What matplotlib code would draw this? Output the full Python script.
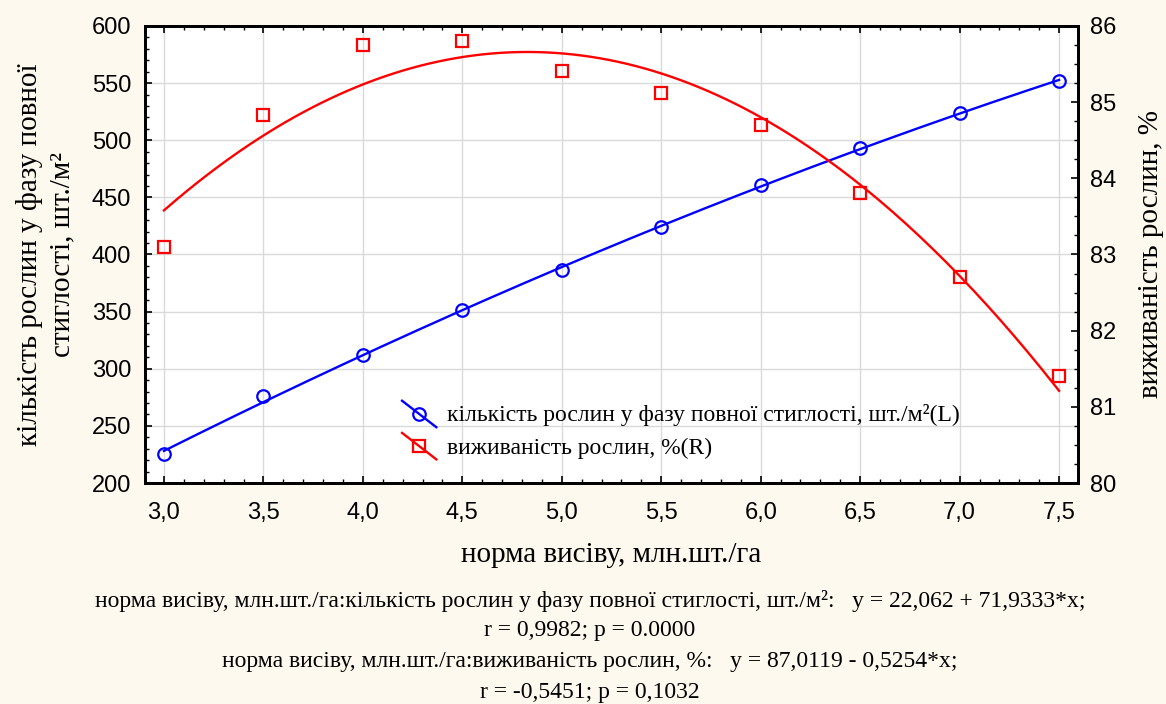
import numpy as np
import matplotlib
matplotlib.use("Agg")
import matplotlib.pyplot as plt
from matplotlib.lines import Line2D
from matplotlib.legend_handler import HandlerLine2D
from matplotlib.ticker import MultipleLocator, FuncFormatter

# seeding rate, mln/ha
seed_rate = [3.0, 3.5, 4.0, 4.5, 5.0, 5.5, 6.0, 6.5, 7.0, 7.5]
# plants at full ripeness, pcs/m2 (left axis)
plants = [225, 276, 312, 351, 386, 424, 461, 493, 524, 552]
# plant survival, % (right axis)
survival = [83.10, 84.83, 85.75, 85.80, 85.41, 85.12, 84.70, 83.81, 82.71, 81.40]

label_plants = "кількість рослин у фазу повної стиглості, шт./м²(L)"
label_surv = "виживаність рослин, %(R)"
xlabel = "норма висіву, млн.шт./га"
ylabel_left = "кількість рослин у фазу повної\nстиглості, шт./м²"
ylabel_right = "виживаність рослин, %"
footer = [
    "норма висіву, млн.шт./га:кількість рослин у фазу повної стиглості, шт./м²:   y = 22,062 + 71,9333*x;",
    "r = 0,9982; p = 0.0000",
    "норма висіву, млн.шт./га:виживаність рослин, %:   y = 87,0119 - 0,5254*x;",
    "r = -0,5451; p = 0,1032",
]

BG = "#fef9ee"
SANS = "Liberation Sans"
SERIF = "Liberation Serif"


class DiagonalHandler(HandlerLine2D):
    # Statistica-style legend key: slanted line with the marker in the middle
    def create_artists(self, legend, orig_handle, xdescent, ydescent,
                       width, height, fontsize, trans):
        x0, x1 = -xdescent, -xdescent + width
        y0, y1 = -ydescent + height * 1.25, -ydescent - height * 0.35
        col = orig_handle.get_color()
        ln = Line2D([x0, x1], [y0, y1], color=col, lw=orig_handle.get_linewidth())
        mk = Line2D([(x0 + x1) / 2], [(y0 + y1) / 2], ls="none",
                    marker=orig_handle.get_marker(), ms=orig_handle.get_markersize(),
                    mfc="none", mec=col, mew=orig_handle.get_markeredgewidth())
        ln.set_transform(trans)
        mk.set_transform(trans)
        return [ln, mk]


fig = plt.figure(figsize=(11.66, 7.04), dpi=100, facecolor=BG)
ax = fig.add_axes([0.1244, 0.3139, 0.8001, 0.6492])
ax.set_facecolor("white")

x = np.array(seed_rate)
xs = np.linspace(x.min(), x.max(), 200)

# quadratic fits as drawn in the original
p_fit = np.polyfit(x, plants, 2)
s_fit = np.polyfit(x, survival, 2)

ax.plot(xs, np.polyval(p_fit, xs), color="#0000ff", lw=1.7, zorder=3)
ax.plot(x, plants, ls="none", marker="o", ms=9, mfc="none", mec="#0000ff", mew=1.6, zorder=4)

ax2 = ax.twinx()
ax2.plot(xs, np.polyval(s_fit, xs), color="#ff0000", lw=1.7, zorder=3)
ax2.plot(x, survival, ls="none", marker="s", ms=8.5, mfc="none", mec="#ff0000", mew=1.6, zorder=4)

ax.set_xlim(2.905, 7.595)
ax.set_ylim(200, 600)
ax2.set_ylim(80, 86)

ax.xaxis.set_major_locator(MultipleLocator(0.5))
ax.xaxis.set_minor_locator(MultipleLocator(0.1))
ax.xaxis.set_major_formatter(FuncFormatter(lambda v, p: f"{v:.1f}".replace(".", ",")))
ax.yaxis.set_major_locator(MultipleLocator(50))
ax.yaxis.set_minor_locator(MultipleLocator(10))
ax2.yaxis.set_major_locator(MultipleLocator(1))
ax2.yaxis.set_minor_locator(MultipleLocator(0.25))

ax.grid(True, which="major", color="#dadada", lw=1.0)
ax.set_axisbelow(True)

ax.tick_params(axis="x", which="both", direction="in", top=True, bottom=True, pad=14)
ax.tick_params(axis="y", which="both", direction="in", left=True, right=False, pad=10)
ax2.tick_params(axis="y", which="both", direction="in", pad=9)
for a in (ax, ax2):
    a.tick_params(which="major", length=5, width=1.2)
    a.tick_params(which="minor", length=3, width=1.0)
    for lab in a.get_xticklabels() + a.get_yticklabels():
        lab.set_fontfamily(SANS)
        lab.set_fontsize(17)
    for sp in a.spines.values():
        sp.set_linewidth(2)

ax.set_xlabel(xlabel, fontfamily=SERIF, fontsize=21)
ax.xaxis.set_label_coords(0.5, -0.128)
ax.set_ylabel(ylabel_left, fontfamily=SERIF, fontsize=21, linespacing=1.3, va="center")
ax.yaxis.set_label_coords(-0.1066, 0.5)
ax2.set_ylabel(ylabel_right, fontfamily=SERIF, fontsize=21, labelpad=15)

handles = [
    Line2D([], [], color="#0000ff", lw=1.7, marker="o", ms=9, mew=1.6),
    Line2D([], [], color="#ff0000", lw=1.7, marker="s", ms=8.5, mew=1.6),
]
leg = ax2.legend(handles, [label_plants, label_surv], loc="upper left",
                 bbox_to_anchor=(0.2755, 0.172), borderaxespad=0, borderpad=0,
                 frameon=False, handler_map={Line2D: DiagonalHandler()},
                 prop={"family": SERIF, "size": 17}, handlelength=1.45,
                 handletextpad=0.45, labelspacing=0.45)

ys = [0.146, 0.104, 0.060, 0.017]
for txt, yy in zip(footer, ys):
    fig.text(0.506, yy, txt, ha="center", va="center", fontfamily=SERIF, fontsize=17)

fig.savefig("out.png", dpi=100, facecolor=BG)
